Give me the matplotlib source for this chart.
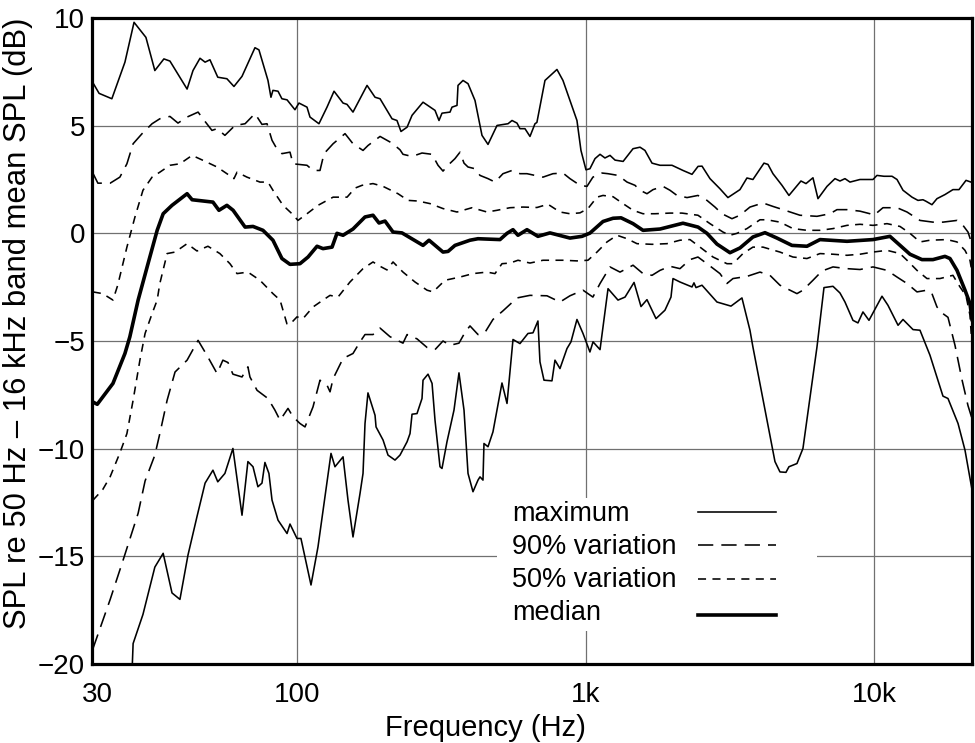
import matplotlib
matplotlib.use('Agg')
import matplotlib.pyplot as plt
from matplotlib.patches import Rectangle
from matplotlib.ticker import NullLocator
from matplotlib.transforms import ScaledTranslation

plt.rcParams['font.family'] = ['Liberation Sans', 'DejaVu Sans']
plt.rcParams['lines.scale_dashes'] = False

# maximum (upper envelope)
max_f = [19.5, 20.5, 22.7, 25.2, 27.1, 29.8, 32.0, 34.4, 36.1, 41.4,
         43.4, 45.9, 47.8, 49.7, 52.9, 56.9, 60.2, 64.2, 71.2, 73.5,
         79.0, 80.9, 82.2, 85.6, 88.3, 92.0, 98.0, 101.2, 107.9, 110.5,
         118.7, 126.6, 133.9, 143.9, 148.5, 155.8, 174.3, 185.8, 193.4, 204.5,
         212.8, 221.4, 228.6, 240.0, 249.7, 272.6, 300.0, 309.7, 317.2, 338.2,
         343.6, 357.6, 360.5, 375.2, 390.5, 412.9, 436.6, 458.1, 492.3, 537.5,
         555.0, 577.4, 591.4, 615.5, 640.6, 666.7, 677.0, 722.1, 794.6, 833.7,
         881.7, 932.3, 962.6, 1002, 1034, 1077, 1121, 1166, 1214, 1264,
         1348, 1459, 1543, 1605, 1698, 1810, 1992, 2175, 2337, 2453,
         2532, 2698, 2922, 3114, 3428, 3625, 3802, 3958, 4153, 4288,
         4462, 4795, 5070, 5580, 5810, 6142, 6393, 6870, 7323, 7621,
         7932, 8255, 8941, 9920, 10240, 10830, 11550, 12020, 12610, 13550,
         14210, 14790, 15150, 15890, 16540, 17630, 18790, 19720, 20860, 21700]
max_db = [7.0, 6.5, 6.25, 7.95, 9.8, 9.1, 7.56, 8.1, 8.0, 6.7,
          7.56, 8.13, 7.95, 8.06, 7.25, 7.18, 6.82, 7.29, 8.62, 8.52,
          7.1, 6.32, 6.64, 6.6, 6.25, 6.2, 5.74, 6.05, 5.86, 5.4,
          5.09, 5.86, 6.6, 6.05, 5.99, 5.63, 6.87, 6.32, 6.25, 5.71,
          5.32, 5.24, 4.73, 4.93, 5.48, 6.09, 5.71, 5.24, 5.58, 5.63,
          5.86, 5.94, 6.87, 7.1, 6.95, 6.17, 4.55, 4.13, 5.01, 5.09,
          5.24, 5.12, 4.86, 4.86, 4.5, 5.09, 5.15, 7.1, 7.61, 7.1,
          6.17, 5.24, 3.85, 2.95, 3.0, 3.47, 3.67, 3.5, 3.62, 3.4,
          3.34, 3.93, 4.0, 3.85, 3.26, 3.16, 3.16, 2.92, 2.74, 3.11,
          3.12, 2.54, 2.07, 1.66, 2.03, 2.57, 2.5, 2.85, 3.26, 3.2,
          2.77, 2.23, 1.76, 2.43, 2.31, 2.58, 1.61, 2.18, 2.54, 2.43,
          2.54, 2.38, 2.5, 2.5, 2.69, 2.65, 2.65, 2.5, 2.0, 1.68,
          1.53, 1.56, 1.49, 1.33, 1.61, 1.8, 2.03, 2.03, 2.46, 2.38]

# maximum (lower envelope)
min_f = [26.7, 26.9, 29.1, 32.0, 34.2, 36.7, 39.1, 41.7, 44.8, 47.8,
         50.9, 52.9, 56.0, 59.7, 64.2, 67.3, 70.1, 72.9, 75.3, 77.1,
         79.6, 81.6, 85.6, 92.0, 94.2, 99.6, 102.8, 111.4, 117.8, 130.7,
         134.9, 143.9, 149.7, 155.8, 164.8, 168.8, 171.5, 175.6, 185.8, 187.3,
         198.1, 206.1, 217.9, 226.8, 240.0, 245.7, 249.7, 259.8, 270.4, 272.6,
         283.7, 293.0, 300.0, 312.2, 317.2, 330.1, 349.1, 363.3, 378.2, 390.5,
         406.3, 422.9, 429.7, 440.1, 443.6, 458.1, 476.6, 512.2, 533.2, 559.3,
         591.4, 630.4, 656.2, 682.6, 693.8, 716.4, 763.6, 782.1, 814.0, 860.9,
         888.8, 932.3, 978.4, 1034, 1060, 1121, 1195, 1294, 1369, 1471,
         1555, 1631, 1753, 1883, 1976, 2008, 2123, 2337, 2374, 2413,
         2531, 2853, 3191, 3483, 3713, 3802, 4534, 4719, 4950, 5070,
         5405, 5670, 6342, 6707, 7207, 7621, 7932, 8454, 8798, 9157,
         9608, 10660, 11180, 12120, 12610, 13660, 14440, 15640, 17350, 18060,
         19570, 20690, 21880]
min_db = [-20.2, -19.05, -17.7, -15.5, -14.86, -16.7, -17.0, -14.94, -13.16, -11.6,
          -11.0, -11.54, -11.15, -9.99, -13.09, -10.6, -10.84, -11.77, -11.6, -10.64,
          -11.15, -12.39, -13.32, -13.94, -13.5, -14.17, -14.17, -16.33, -14.56, -10.22,
          -10.84, -10.38, -12.39, -14.1, -12.08, -11.15, -8.83, -7.41, -8.45, -8.99,
          -9.6, -10.3, -10.53, -10.3, -9.68, -9.3, -8.4, -8.37, -7.67, -6.82,
          -6.54, -6.97, -8.68, -10.84, -10.92, -9.68, -8.21, -6.48, -8.21, -11.15,
          -12.0, -11.46, -11.31, -11.46, -9.76, -9.91, -9.22, -6.95, -7.9, -4.93,
          -5.12, -4.65, -4.62, -4.07, -5.97, -6.82, -6.85, -5.89, -6.28, -5.35,
          -5.04, -4.0, -4.65, -5.51, -5.04, -5.4, -2.57, -3.1, -2.96, -2.28,
          -3.4, -3.08, -3.96, -3.57, -2.96, -2.1, -2.26, -2.49, -2.3, -2.52,
          -2.41, -3.19, -3.38, -3.0, -4.5, -5.28, -10.6, -11.08, -11.1, -10.84,
          -10.69, -9.99, -5.28, -2.52, -2.46, -2.77, -3.19, -4.04, -4.16, -3.65,
          -4.04, -2.92, -3.34, -4.27, -4.0, -4.47, -4.5, -5.66, -7.56, -7.67,
          -8.83, -10.07, -11.9]

# 90% variation, upper
p90_hi_f = [19.5, 20.3, 22.4, 24.2, 25.6, 26.9, 28.9, 31.3, 33.3, 36.1,
            38.5, 41.4, 45.2, 47.0, 50.5, 52.6, 56.0, 60.7, 65.8, 71.2,
            75.3, 78.4, 81.6, 84.2, 88.3, 94.2, 96.5, 107.9, 113.2, 119.7,
            123.6, 132.9, 146.2, 155.8, 168.8, 175.7, 193.4, 212.8, 226.8, 232.3,
            249.7, 270.4, 292.9, 307.3, 319.8, 332.8, 351.9, 366.3, 378.2, 390.5,
            412.9, 429.7, 458.1, 484.4, 516.3, 554.9, 591.4, 625.4, 710.7, 769.8,
            833.8, 881.7, 955.0, 1010, 1059, 1139, 1194, 1295, 1391, 1482,
            1543, 1631, 1712, 1854, 1960, 2073, 2246, 2451, 2634, 2808,
            2969, 3216, 3428, 3713, 4120, 4462, 4834, 5536, 6342, 7036,
            7441, 8060, 8941, 9685, 10000, 10745, 12020, 13020, 14440, 16020,
            17350, 19410, 20360, 21190, 21880]
p90_hi_db = [2.8, 2.33, 2.33, 2.61, 3.23, 4.16, 4.63, 5.09, 5.32, 5.43,
             5.12, 5.4, 5.63, 5.32, 4.78, 4.86, 4.55, 5.01, 5.09, 5.56,
             5.06, 5.09, 4.32, 4.0, 3.7, 3.77, 3.23, 3.16, 2.92, 2.92,
             3.7, 4.16, 4.63, 4.16, 3.85, 4.08, 4.5, 4.19, 3.88, 3.67,
             3.57, 3.73, 3.67, 3.16, 2.89, 3.16, 3.47, 3.77, 3.26, 3.08,
             3.0, 2.69, 2.54, 2.38, 2.77, 2.92, 2.77, 2.77, 2.61, 2.77,
             2.8, 2.54, 2.23, 2.18, 2.61, 2.8, 2.77, 2.69, 2.38, 2.23,
             2.0, 1.84, 2.03, 2.18, 2.0, 1.76, 1.66, 1.76, 1.53, 1.22,
             0.91, 0.68, 0.84, 1.22, 1.41, 1.25, 1.1, 0.84, 0.79, 0.91,
             1.1, 1.1, 1.03, 0.91, 0.84, 1.19, 1.19, 0.99, 0.6, 0.52,
             0.52, 0.6, 0.37, 0.06, -0.5]

# 50% variation, upper
p50_hi_f = [19.5, 21.1, 22.9, 23.8, 25.6, 27.3, 29.1, 31.3, 33.3, 36.1,
            39.1, 43.1, 47.0, 52.6, 56.9, 60.2, 61.7, 66.8, 74.1, 79.0,
            82.2, 89.1, 95.7, 100.4, 107.9, 117.8, 132.9, 148.6, 158.3, 167.5,
            182.8, 198.1, 223.2, 241.8, 261.9, 288.3, 319.8, 357.6, 403.1, 454.4,
            492.2, 546.1, 605.7, 677.4, 739.5, 814.0, 881.7, 955.0, 1018, 1094,
            1148, 1244, 1347, 1459, 1580, 1739, 1960, 2157, 2451, 2698,
            2993, 3165, 3347, 3625, 4022, 4253, 4719, 5235, 5854, 6496,
            7207, 8060, 8941, 9920, 11100, 12310, 13330, 14440, 15640, 17910,
            19410, 20690, 21530, 21880]
p50_hi_db = [-2.72, -2.8, -3.1, -2.4, -0.64, 0.76, 2.0, 2.61, 2.84, 3.16,
             3.23, 3.62, 3.39, 3.08, 2.77, 2.54, 2.84, 2.61, 2.38, 2.38,
             2.0, 1.3, 0.91, 0.6, 0.91, 1.3, 1.68, 1.68, 2.1, 2.23,
             2.31, 2.18, 1.84, 1.53, 1.5, 1.38, 1.15, 0.99, 1.19, 0.99,
             1.07, 1.19, 1.22, 1.2, 1.35, 0.99, 0.91, 0.95, 1.15, 1.68,
             1.76, 1.7, 1.38, 1.07, 0.91, 0.91, 0.94, 0.94, 0.84, 0.45,
             0.06, -0.09, 0.0, 0.22, 0.63, 0.63, 0.52, 0.22, 0.14, 0.14,
             0.22, 0.37, 0.42, 0.37, 0.45, 0.32, 0.0, -0.4, -0.32, -0.29,
             -0.4, -0.79, -1.25, -1.8]

# median
med_f = [19.5, 20.2, 22.9, 25.2, 26.2, 28.0, 30.3, 32.6, 34.2, 36.7,
         41.4, 43.1, 50.9, 53.4, 56.9, 59.8, 65.8, 70.1, 75.9, 82.2,
         88.3, 94.2, 102.0, 108.8, 116.9, 122.6, 131.8, 137.1, 143.9, 155.8,
         171.5, 182.8, 191.8, 201.2, 214.5, 230.4, 272.6, 286.0, 319.8, 332.9,
         351.9, 396.7, 422.9, 504.1, 533.2, 559.3, 582.0, 625.4, 682.6, 751.5,
         881.7, 970.5, 1034, 1148, 1244, 1326, 1459, 1580, 1810, 2174,
         2453, 2634, 2853, 3165, 3428, 3802, 4186, 4607, 5193, 5854,
         6496, 8063, 9920, 11360, 12510, 13330, 14670, 16020, 17630, 18350,
         19410, 20690, 21530, 21880]
med_db = [-7.83, -7.94, -6.97, -5.58, -4.81, -3.1, -1.41, 0.14, 0.91, 1.3,
          1.84, 1.56, 1.45, 1.07, 1.3, 1.07, 0.29, 0.32, 0.14, -0.32,
          -1.17, -1.44, -1.41, -1.1, -0.6, -0.71, -0.64, 0.0, -0.09, 0.2,
          0.76, 0.84, 0.48, 0.57, 0.06, 0.02, -0.56, -0.32, -0.87, -0.84,
          -0.56, -0.32, -0.25, -0.29, 0.0, 0.17, -0.09, 0.17, -0.14, 0.02,
          -0.22, -0.14, 0.01, 0.55, 0.7, 0.72, 0.45, 0.14, 0.2, 0.47,
          0.29, 0.0, -0.5, -0.9, -0.68, -0.17, 0.03, -0.22, -0.56, -0.6,
          -0.29, -0.37, -0.29, -0.14, -0.64, -0.97, -1.22, -1.22, -1.07, -1.17,
          -1.72, -2.64, -3.26, -4.0]

# 50% variation, lower
p50_lo_f = [19.5, 21.1, 22.4, 24.2, 25.6, 26.9, 28.4, 29.6, 31.3, 32.6,
            33.3, 35.3, 37.6, 41.4, 44.8, 48.9, 53.8, 58.3, 61.7, 67.3,
            74.1, 82.2, 87.0, 91.9, 94.2, 99.6, 104.5, 113.2, 122.6, 129.7,
            138.2, 152.1, 168.8, 182.8, 193.4, 204.4, 214.5, 232.3, 255.7, 281.5,
            295.3, 324.9, 366.3, 406.3, 454.4, 484.4, 512.2, 546.1, 582.1, 640.6,
            710.7, 833.8, 932.3, 1018, 1094, 1185, 1284, 1391, 1506, 1698,
            1913, 2123, 2300, 2491, 2764, 3090, 3242, 3511, 3802, 4120,
            4719, 5235, 5854, 6496, 7207, 8060, 8941, 9920, 11100, 12310,
            13020, 14100, 15270, 16940, 18790, 19880, 20860, 21530, 21880]
p50_lo_db = [-12.4, -11.9, -11.3, -10.2, -9.3, -7.75, -5.89, -4.65, -3.73, -3.1,
             -2.33, -0.94, -0.87, -0.48, -0.82, -0.6, -0.94, -1.41, -1.87, -1.8,
             -2.18, -2.8, -3.1, -4.2, -4.22, -3.88, -3.96, -3.42, -3.1, -2.88,
             -2.96, -2.26, -1.64, -1.33, -1.53, -1.7, -1.33, -1.8, -2.26, -2.64,
             -2.72, -2.18, -2.03, -1.87, -1.8, -1.87, -1.41, -1.38, -1.25, -1.38,
             -1.25, -1.25, -1.28, -1.25, -0.87, -0.4, -0.09, -0.25, -0.48, -0.51,
             -0.48, -0.32, -0.29, -0.64, -1.1, -1.41, -1.41, -0.94, -0.64, -0.64,
             -0.87, -1.1, -1.17, -0.94, -0.97, -1.02, -0.97, -0.87, -0.79, -0.94,
             -1.25, -1.72, -2.1, -2.1, -1.95, -2.49, -2.9, -3.8, -5.2]

# 90% variation, lower
p90_lo_f = [19.5, 22.4, 24.8, 28.0, 29.6, 32.0, 33.3, 35.3, 37.6, 41.4,
            45.2, 48.5, 52.6, 55.1, 57.4, 59.7, 64.2, 67.3, 68.4, 72.4,
            79.0, 83.5, 87.0, 92.7, 96.5, 102.0, 106.2, 113.2, 119.7, 126.6,
            129.7, 132.9, 143.9, 155.8, 164.8, 171.5, 182.8, 193.4, 209.4, 232.3,
            240.0, 259.8, 281.5, 300.0, 319.8, 338.2, 363.3, 381.2, 396.7, 422.9,
            447.2, 476.6, 516.3, 546.1, 577.4, 640.6, 733.7, 814.0, 881.7, 978.4,
            1059, 1121, 1214, 1315, 1459, 1580, 1698, 1810, 1960, 2123,
            2300, 2451, 2634, 2922, 3090, 3242, 3625, 4022, 4356, 4719,
            5405, 5670, 6142, 6600, 7207, 8060, 8941, 9920, 11100, 12020,
            13020, 14100, 15270, 15890, 16540, 17350, 18060, 19100, 20200, 21190,
            21880]
p90_lo_db = [-19.3, -17.0, -15.2, -13.0, -11.5, -10.3, -9.3, -7.75, -6.44, -5.89,
             -4.97, -5.66, -6.51, -5.89, -6.0, -6.54, -6.67, -6.2, -6.67, -7.29,
             -7.67, -8.21, -8.68, -8.13, -8.52, -8.83, -8.99, -8.06, -6.82, -7.05,
             -7.36, -6.75, -5.81, -5.58, -5.04, -4.7, -4.7, -4.4, -4.8, -5.1,
             -4.7, -4.9, -5.3, -5.4, -5.0, -5.2, -5.1, -4.6, -4.3, -4.7,
             -4.6, -4.0, -3.6, -3.3, -3.0, -2.88, -2.9, -3.19, -2.9, -2.64,
             -2.96, -2.33, -1.56, -1.8, -1.48, -1.87, -1.95, -1.72, -1.53, -1.64,
             -1.22, -1.1, -1.41, -1.87, -2.33, -2.1, -2.0, -1.8, -1.95, -2.41,
             -2.8, -2.64, -2.18, -1.75, -1.56, -1.64, -1.68, -1.56, -1.72, -2.03,
             -2.33, -2.72, -2.64, -2.8, -3.42, -3.73, -3.9, -5.2, -6.8, -8.0,
             -8.6]

x_ticks = [100, 1000, 10000]
x_labels = ['100', '1k', '10k']
y_ticks = [-20, -15, -10, -5, 0, 5, 10]
y_labels = ['\u221220', '\u221215', '\u221210', '\u22125', '0', '5', '10']
legend_names = ['maximum', '90% variation', '50% variation', 'median']

X_LO, X_HI = 19.37, 21880

LONG = (0, (11, 5.8))
SHORT = (0, (5.8, 4.6))
THIN = 1.15
THICK = 2.6

fig = plt.figure(figsize=(9.75, 7.43), dpi=100)
ax = fig.add_axes([92 / 975, 79 / 743, 880 / 975, 646 / 743])
ax.set_xscale('log')
ax.set_xlim(X_LO, X_HI)
ax.set_ylim(-20, 10)

ax.set_xticks([X_LO] + x_ticks)
ax.set_xticklabels(['30'] + x_labels)
ax.xaxis.set_minor_locator(NullLocator())
ax.set_yticks(y_ticks)
ax.set_yticklabels(y_labels)
ax.tick_params(length=0, labelsize=20)
ax.tick_params(axis='x', pad=13)
ax.tick_params(axis='y', pad=5)
# first label sits a little right of the edge in the original
lab0 = ax.get_xticklabels()[0]
lab0.set_transform(lab0.get_transform() + ScaledTranslation(5 / 100, 0, fig.dpi_scale_trans))

ax.grid(True, color='#707070', lw=0.9)
ax.set_axisbelow(True)
for s in ax.spines.values():
    s.set_linewidth(2.3)
    s.set_zorder(5)

ax.plot(max_f, max_db, color='black', lw=THIN)
ax.plot(min_f, min_db, color='black', lw=THIN)
ax.plot(p90_hi_f, p90_hi_db, color='black', lw=THIN, linestyle=LONG)
ax.plot(p90_lo_f, p90_lo_db, color='black', lw=THIN, linestyle=LONG)
ax.plot(p50_hi_f, p50_hi_db, color='black', lw=THIN, linestyle=SHORT)
ax.plot(p50_lo_f, p50_lo_db, color='black', lw=THIN, linestyle=SHORT)
ax.plot(med_f, med_db, color='black', lw=THICK)

# legend block: white panel, labels on the left, samples on the right
ax.add_patch(Rectangle((0.460, 0.051), 0.364, 0.206, transform=ax.transAxes,
                       facecolor='white', edgecolor='none', zorder=1))
styles = [('-', THIN), (LONG, THIN), (SHORT, THIN), ('-', THICK)]
text_y = [0.2218, 0.1703, 0.1197, 0.0681]
line_y = [0.2358, 0.1842, 0.1311, 0.0759]
for name, (ls, lw), ty, ly in zip(legend_names, styles, text_y, line_y):
    ax.text(0.477, ty, name, transform=ax.transAxes, fontsize=19.5,
            ha='left', va='baseline')
    ax.plot([0.6886, 0.7773], [ly, ly], transform=ax.transAxes,
            color='black', lw=lw, linestyle=ls, clip_on=False)

fig.text(485 / 975, 7 / 743, 'Frequency (Hz)', fontsize=21,
         ha='center', va='baseline')
fig.text(3 / 975, (743 - 323) / 743, 'SPL re 50 Hz \u2013 16 kHz band mean SPL (dB)',
         fontsize=22.3, rotation=90, ha='left', va='center')

fig.savefig('out.png', dpi=100)
